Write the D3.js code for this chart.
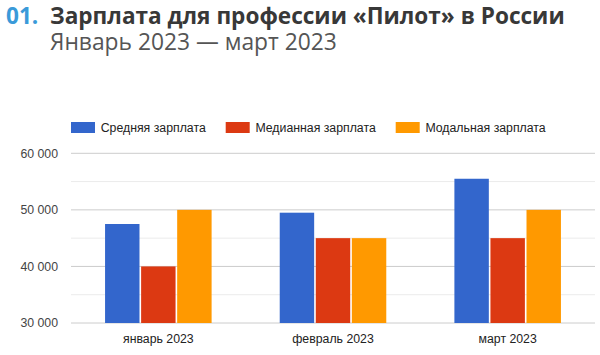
<!DOCTYPE html>
<html><head><meta charset="utf-8">
<script src="https://cdn.jsdelivr.net/npm/d3@7"></script>
<style>body{margin:0;background:#fff}svg{display:block}</style>
</head><body>
<svg id="c" width="600" height="355"></svg>
<script>
const categories = ["январь 2023", "февраль 2023", "март 2023"];
const seriesNames = ["Средняя зарплата", "Медианная зарплата", "Модальная зарплата"];
const avgSalary = [47500, 49500, 55500];
const medianSalary = [40000, 45000, 45000];
const modalSalary = [50000, 45000, 50000];
const yTicks = [30000, 40000, 50000, 60000];
const yMinorTicks = [35000, 45000, 55000];
const colors = ["#3366cc", "#dc3912", "#ff9900"];
const series = [avgSalary, medianSalary, modalSalary];

const svg = d3.select("#c");
const font = "Arial, 'Liberation Sans', sans-serif";

// Title
const t = svg.append("text").attr("x", 6).attr("y", 23.5)
  .attr("font-family", "'Open Sans', sans-serif").attr("font-weight", "bold").attr("font-size", 22.6);
t.append("tspan").attr("fill", "#3a9ad9").text("01.");
t.append("tspan").attr("x", 50).attr("fill", "#383838").text("Зарплата для профессии «Пилот» в России");
svg.append("text").attr("x", 50).attr("y", 49.5)
  .attr("font-family", "'Open Sans', sans-serif").attr("font-size", 22.8).attr("fill", "#555")
  .text("Январь 2023 — март 2023");

const x0 = 71, x1 = 595;
const y = d3.scaleLinear().domain([30000, 60000]).range([323, 153.3]);
const xb = d3.scaleBand().domain(categories).range([x0, x1]).paddingInner(0.39).paddingOuter(0.195);
const xs = d3.scaleBand().domain(d3.range(3)).range([0, xb.bandwidth()]).paddingInner(0.045);

// gridlines
svg.append("g").selectAll("line").data(yMinorTicks).join("line")
  .attr("x1", x0).attr("x2", x1).attr("y1", d => y(d)).attr("y2", d => y(d))
  .attr("stroke", "#ebebeb").attr("stroke-width", 1);
svg.append("g").selectAll("line").data(yTicks).join("line")
  .attr("x1", x0).attr("x2", x1).attr("y1", d => y(d)).attr("y2", d => y(d))
  .attr("stroke", "#cccccc").attr("stroke-width", 1);

// y axis labels
const yAxis = d3.axisLeft(y).tickValues(yTicks).tickSize(0).tickPadding(0)
  .tickFormat(d => d3.format(",")(d).replace(",", " "));
const ya = svg.append("g").attr("transform", `translate(58,0)`).call(yAxis);
ya.select(".domain").remove();
ya.selectAll("text").attr("font-family", font).attr("font-size", 12.3).attr("fill", "#444");

// bars
const groups = svg.append("g").selectAll("g").data(categories).join("g")
  .attr("transform", d => `translate(${xb(d)},0)`);
groups.selectAll("rect").data((d, i) => series.map((s, j) => ({j, v: s[i]}))).join("rect")
  .attr("x", d => xs(d.j)).attr("width", xs.bandwidth())
  .attr("y", d => y(d.v)).attr("height", d => y(30000) - y(d.v))
  .attr("fill", d => colors[d.j]);

// x axis labels
const xAxis = d3.axisBottom(xb).tickSize(0).tickPadding(0);
const xa = svg.append("g").attr("transform", `translate(0,334)`).call(xAxis);
xa.select(".domain").remove();
xa.selectAll("text").attr("font-family", font).attr("font-size", 12.3).attr("fill", "#222").attr("dy", "0.71em");

// legend
const legX = [71, 225.7, 395.7];
const lg = svg.append("g").selectAll("g").data(seriesNames).join("g")
  .attr("transform", (d, i) => `translate(${legX[i]},122)`);
lg.append("rect").attr("width", 24).attr("height", 11).attr("fill", (d, i) => colors[i]);
lg.append("text").attr("x", 29.7).attr("y", 10).attr("font-family", font).attr("font-size", 12.3)
  .attr("fill", "#222").text(d => d);
</script>
</body></html>
